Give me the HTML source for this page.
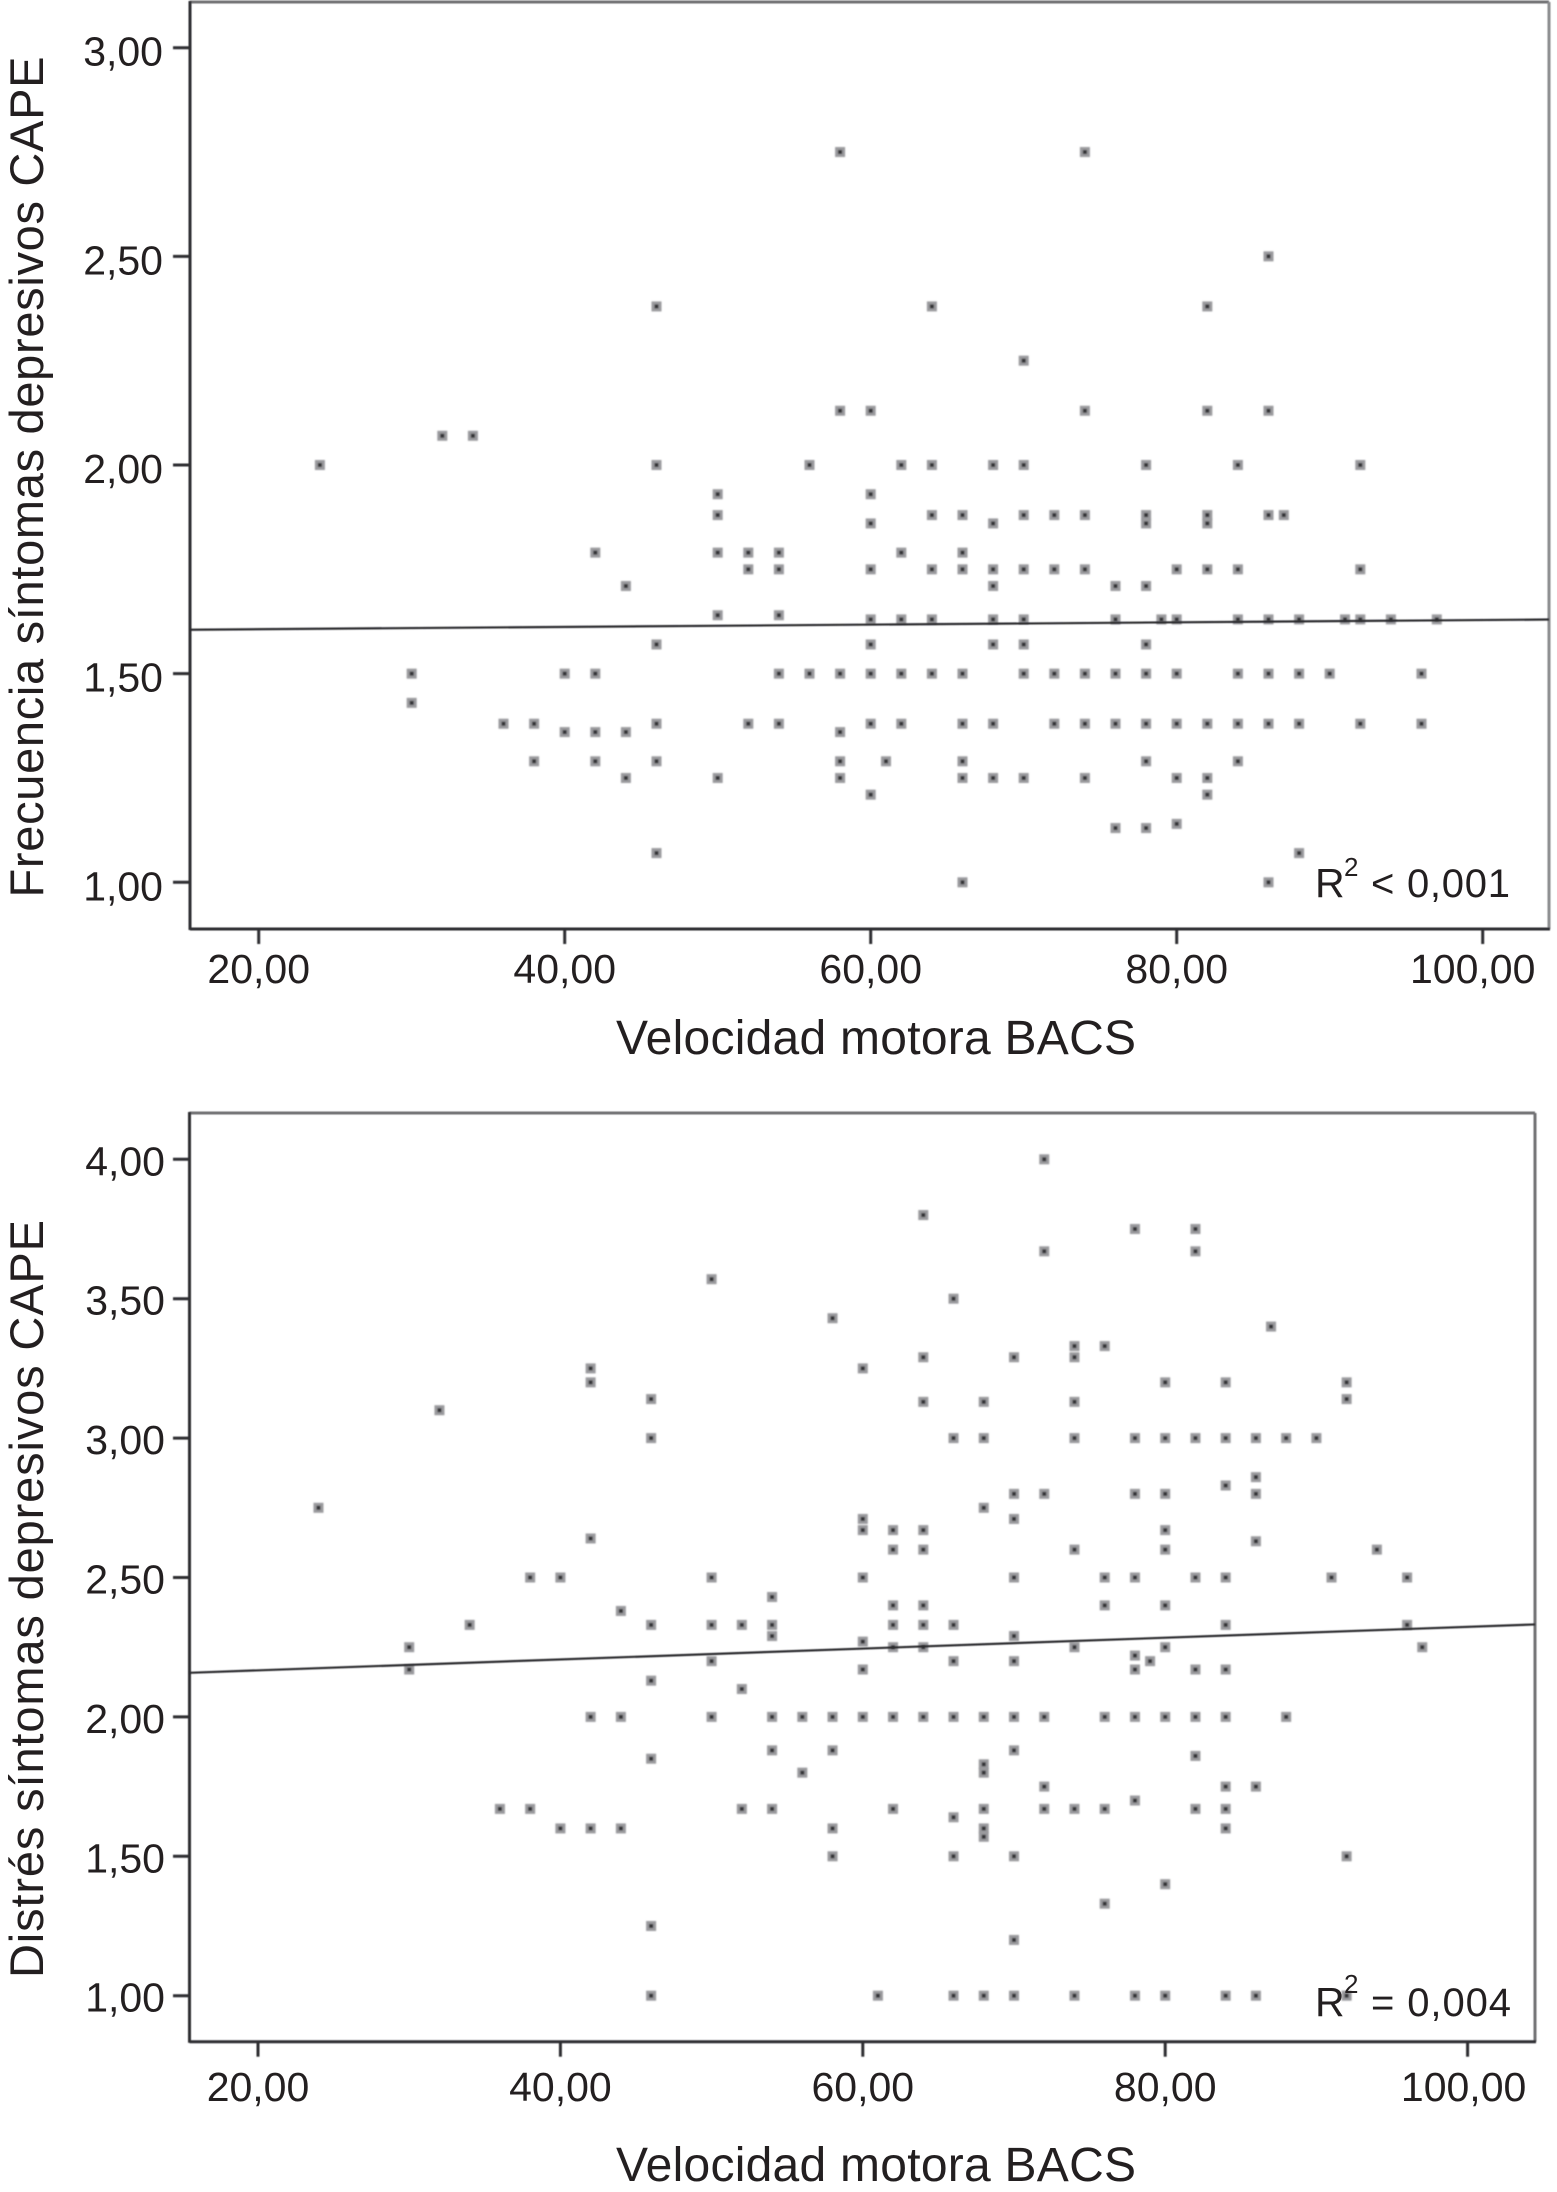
<!DOCTYPE html>
<html lang="es">
<head>
<meta charset="utf-8">
<title>Velocidad motora BACS y síntomas depresivos CAPE</title>
<style>
  html, body { margin: 0; padding: 0; background: #fff; }
  svg { display: block; }
  text { font-family: "Liberation Sans", Arial, sans-serif; fill: #231f20; }
</style>
</head>
<body>
<svg id="figure" xmlns="http://www.w3.org/2000/svg" width="1557" height="2192" viewBox="0 0 1557 2192">
  <defs>
    <filter id="soft" filterUnits="userSpaceOnUse" x="0" y="0" width="1557" height="2192"><feGaussianBlur stdDeviation="0.9"/></filter>
    <filter id="softline" filterUnits="userSpaceOnUse" x="0" y="0" width="1557" height="2192"><feGaussianBlur stdDeviation="0.45"/></filter>
  </defs>
  <rect x="0" y="0" width="1557" height="2192" fill="#ffffff"/>

  <g id="plot-top"></g>
  <g id="plot-bottom"></g>

  <text transform="translate(43,477) rotate(-90)" text-anchor="middle" font-size="47" textLength="841" lengthAdjust="spacing">Frecuencia síntomas depresivos CAPE</text>
  <text x="876" y="1054" text-anchor="middle" font-size="48" textLength="520" lengthAdjust="spacing">Velocidad motora BACS</text>
  <text x="1315" y="897" font-size="41">R</text>
  <text x="1344" y="876" font-size="26">2</text>
  <text x="1371" y="897" font-size="40" textLength="139" lengthAdjust="spacing">&lt; 0,001</text>

  <text transform="translate(43,1599) rotate(-90)" text-anchor="middle" font-size="47" textLength="758" lengthAdjust="spacing">Distrés síntomas depresivos CAPE</text>
  <text x="876" y="2181" text-anchor="middle" font-size="48" textLength="520" lengthAdjust="spacing">Velocidad motora BACS</text>
  <text x="1315" y="2016" font-size="41">R</text>
  <text x="1344" y="1993" font-size="26">2</text>
  <text x="1371" y="2016" font-size="40" textLength="140" lengthAdjust="spacing">= 0,004</text>
</svg>

<script>
// Shared x-axis tick values and printed labels
const xTickValues = [20, 40, 60, 80, 100];
const xTickLabels = ["20,00", "40,00", "60,00", "80,00", "100,00"];

// Top chart: frequency of depressive symptoms
const freqYTickValues = [1, 1.5, 2, 2.5, 3];
const freqYTickLabels = ["1,00", "1,50", "2,00", "2,50", "3,00"];
const freqTrendIntercept = 1.601;
const freqTrendSlope = 0.000275;
const freqLevels = [2.75, 2.50, 2.38, 2.25, 2.13, 2.07, 2.00, 1.93, 1.88, 1.86, 1.79, 1.75, 1.71, 1.64, 1.63, 1.57, 1.50, 1.43, 1.38, 1.36, 1.29, 1.25, 1.21, 1.14, 1.13, 1.07, 1.00];
const freqSpeeds = [
  [58, 74],
  [86],
  [46, 64, 82],
  [70],
  [58, 60, 74, 82, 86],
  [32, 34],
  [24, 46, 56, 62, 64, 68, 70, 78, 84, 92],
  [50, 60],
  [50, 64, 66, 70, 72, 74, 78, 82, 86, 87],
  [60, 68, 78, 82],
  [42, 50, 52, 54, 62, 66],
  [52, 54, 60, 64, 66, 68, 70, 72, 74, 80, 82, 84, 92],
  [44, 68, 76, 78],
  [50, 54],
  [60, 62, 64, 68, 70, 76, 79, 80, 84, 86, 88, 91, 92, 94, 97],
  [46, 60, 68, 70, 78],
  [30, 40, 42, 54, 56, 58, 60, 62, 64, 66, 70, 72, 74, 76, 78, 80, 84, 86, 88, 90, 96],
  [30],
  [36, 38, 46, 52, 54, 60, 62, 66, 68, 72, 74, 76, 78, 80, 82, 84, 86, 88, 92, 96],
  [40, 42, 44, 58],
  [38, 42, 46, 58, 61, 66, 78, 84],
  [44, 50, 58, 66, 68, 70, 74, 80, 82],
  [60, 82],
  [80],
  [76, 78],
  [46, 88],
  [66, 86]
];

// Bottom chart: distress from depressive symptoms
const distressYTickValues = [1, 1.5, 2, 2.5, 3, 3.5, 4];
const distressYTickLabels = ["1,00", "1,50", "2,00", "2,50", "3,00", "3,50", "4,00"];
const distressTrendIntercept = 2.128;
const distressTrendSlope = 0.00195;
const distressLevels = [4.00, 3.80, 3.75, 3.67, 3.57, 3.50, 3.43, 3.40, 3.33, 3.29, 3.25, 3.20, 3.14, 3.13, 3.10, 3.00, 2.86, 2.83, 2.80, 2.75, 2.71, 2.67, 2.64, 2.63, 2.60, 2.50, 2.43, 2.40, 2.38, 2.33, 2.29, 2.27, 2.25, 2.22, 2.20, 2.17, 2.13, 2.10, 2.00, 1.88, 1.86, 1.85, 1.83, 1.80, 1.75, 1.70, 1.67, 1.64, 1.60, 1.57, 1.50, 1.40, 1.33, 1.25, 1.20, 1.00];
const distressSpeeds = [
  [72],
  [64],
  [78, 82],
  [72, 82],
  [50],
  [66],
  [58],
  [87],
  [74, 76],
  [64, 70, 74],
  [42, 60],
  [42, 80, 84, 92],
  [46, 92],
  [64, 68, 74],
  [32],
  [46, 66, 68, 74, 78, 80, 82, 84, 86, 88, 90],
  [86],
  [84],
  [70, 72, 78, 80, 86],
  [24, 68],
  [60, 70],
  [60, 62, 64, 80],
  [42],
  [86],
  [62, 64, 74, 80, 94],
  [38, 40, 50, 60, 70, 76, 78, 82, 84, 91, 96],
  [54],
  [62, 64, 76, 80],
  [44],
  [34, 46, 50, 52, 54, 62, 64, 66, 84, 96],
  [54, 70],
  [60],
  [30, 62, 64, 74, 80, 97],
  [78],
  [50, 66, 70, 79],
  [30, 60, 78, 82, 84],
  [46],
  [52],
  [42, 44, 50, 54, 56, 58, 60, 62, 64, 66, 68, 70, 72, 76, 78, 80, 82, 84, 88],
  [54, 58, 70],
  [82],
  [46],
  [68],
  [56, 68],
  [72, 84, 86],
  [78],
  [36, 38, 52, 54, 62, 68, 72, 74, 76, 82, 84],
  [66],
  [40, 42, 44, 58, 68, 84],
  [68],
  [58, 66, 70, 92],
  [80],
  [76],
  [46],
  [70],
  [46, 61, 66, 68, 70, 74, 78, 80, 84, 86, 92]
];

const SVG_NS = "http://www.w3.org/2000/svg";

function svgEl(tag, attrs, parent) {
  const el = document.createElementNS(SVG_NS, tag);
  for (const k in attrs) el.setAttribute(k, attrs[k]);
  parent.appendChild(el);
  return el;
}

function drawPlot(cfg) {
  const root = document.getElementById(cfg.id);
  const xScale = v => cfg.xAt20 + (v - 20) * cfg.xPerUnit;
  const yScale = v => cfg.yAt1 - (v - 1) * cfg.yPerUnit;

  // Frame and ticks share one softened layer
  const lines = svgEl("g", {filter: "url(#softline)"}, root);
  
  

  const f = cfg.frame;
  const frameTop = svgEl("line", {x1: f.left, y1: f.top, x2: f.right, y2: f.top, stroke: "#6f7073", "stroke-width": 3}, lines);
  
  
  const frameRight = svgEl("line", {x1: f.right, y1: f.top, x2: f.right, y2: f.bottom, stroke: cfg.rightColor, "stroke-width": 3}, lines);
  
  
  const axisLeft = svgEl("line", {x1: f.left, y1: f.top - 1, x2: f.left, y2: f.bottom + 1, stroke: "#2f2f31", "stroke-width": 3}, lines);
  
  
  const axisBottom = svgEl("line", {x1: f.left, y1: f.bottom, x2: f.right + 1, y2: f.bottom, stroke: "#2f2f31", "stroke-width": 3}, lines);
  
  

  // Y ticks
  cfg.yTicks.forEach((v, i) => {
    const y = yScale(v);
    const tick = svgEl("line", {x1: 173, y1: y, x2: f.left, y2: y, stroke: "#2f2f31", "stroke-width": 3}, lines);
    
    
    const label = svgEl("text", {x: cfg.yLabelRight, y: y + cfg.yLabelDrop, "text-anchor": "end", "font-size": 41}, root);
    label.textContent = cfg.yLabels[i];
    
    
  });

  // X ticks
  xTickValues.forEach((v, i) => {
    const x = xScale(v);
    const tick = svgEl("line", {x1: x, y1: f.bottom, x2: x, y2: f.bottom + 15, stroke: "#2f2f31", "stroke-width": 3}, lines);
    
    
    const shift = v >= 100 ? cfg.wideLabelShift : 0;
    const label = svgEl("text", {x: x + shift, y: cfg.xLabelBaseline, "text-anchor": "middle", "font-size": 41}, root);
    label.textContent = xTickLabels[i];
    
    
  });

  // Points
  const points = svgEl("g", {filter: "url(#soft)"}, root);
  
  
  cfg.levels.forEach((level, r) => {
    cfg.speeds[r].forEach(speed => {
      const px = xScale(speed);
      const py = yScale(level);
      const point = svgEl("g", {}, points);
      
      
      svgEl("rect", {x: px - 5, y: py - 5, width: 10, height: 10, fill: "#9a9a9d"}, point);
      svgEl("rect", {x: px - 2, y: py - 2, width: 4, height: 4, fill: "#333336"}, point);
    });
  });

  // Regression line
  const [x0, x1] = cfg.xDomain;
  const trend = svgEl("line", {
    x1: xScale(x0), y1: yScale(cfg.intercept + cfg.slope * x0),
    x2: xScale(x1), y2: yScale(cfg.intercept + cfg.slope * x1),
    stroke: "#2b2b2d", "stroke-width": 2.2, filter: "url(#softline)"
  }, root);
  
  
}

drawPlot({
  id: "plot-top",
  frame: {left: 190, right: 1549, top: 2, bottom: 929},
  rightColor: "#8a8b8e",
  xAt20: 258.7, xPerUnit: 15.3,
  yAt1: 882.3, yPerUnit: 417.3,
  xDomain: [15.51, 104.33],
  yTicks: freqYTickValues, yLabels: freqYTickLabels,
  yLabelRight: 163, yLabelDrop: 18,
  xLabelBaseline: 983, wideLabelShift: -10,
  levels: freqLevels, speeds: freqSpeeds,
  intercept: freqTrendIntercept, slope: freqTrendSlope
});

drawPlot({
  id: "plot-bottom",
  frame: {left: 189.5, right: 1535, top: 1113, bottom: 2041.7},
  rightColor: "#6f7073",
  xAt20: 258, xPerUnit: 15.12,
  yAt1: 1995.7, yPerUnit: 278.8,
  xDomain: [15.47, 104.46],
  yTicks: distressYTickValues, yLabels: distressYTickLabels,
  yLabelRight: 165, yLabelDrop: 16,
  xLabelBaseline: 2101, wideLabelShift: -4,
  levels: distressLevels, speeds: distressSpeeds,
  intercept: distressTrendIntercept, slope: distressTrendSlope
});
</script>
</body>
</html>
